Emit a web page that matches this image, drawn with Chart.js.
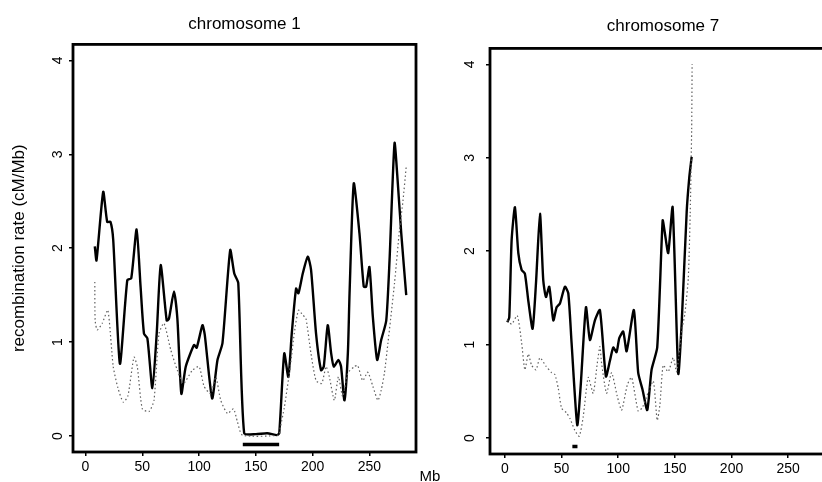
<!DOCTYPE html>
<html>
<head>
<meta charset="utf-8">
<script src="https://cdn.jsdelivr.net/npm/chart.js@4.4.1/dist/chart.umd.min.js"></script>
<style>
  html, body { margin: 0; padding: 0; background: #fff; overflow: hidden; width: 822px; height: 482px; }
  canvas { position: absolute; top: 0; }
  #chr1 { left: 0; }
  #chr7 { left: 420px; }
</style>
</head>
<body>
<canvas id="chr1" width="420" height="482"></canvas>
<canvas id="chr7" width="420" height="482"></canvas>
<script>
// tick labels
const mbTicks = [0, 50, 100, 150, 200, 250]
const rateTicks = [0, 1, 2, 3, 4]

// chromosome 1, solid line
const chr1SolidMb = [8.2, 9.7, 15.6, 19.1, 22, 24.4, 30.3, 36.8, 40.3, 45, 48.5, 51.5, 54.5, 58.9, 62.7, 66.2, 71.5, 73.5, 77.9, 80.9,
  84.4, 88.3, 95.6, 97.9, 103, 105, 111.5, 116.2, 120.6, 127.4, 131, 134.5, 139.7, 150, 160, 168.6, 170.6, 175, 178.6, 181.6,
  185.4, 187.5, 191.3, 195.7, 198.6, 203, 207.4, 209.8, 213.3, 216.3, 218.6, 222.7, 225, 228, 231, 232.5, 236.2, 241.2, 245, 247.1,
  250, 253, 256.8, 260.3, 264.8, 267.7, 272.1, 275, 278, 282.4]
const chr1SolidRate = [2.02, 1.87, 2.60, 2.28, 2.28, 2.09, 0.77, 1.66, 1.68, 2.20, 1.59, 1.09, 1.04, 0.51, 1.09, 1.82, 1.23, 1.25, 1.54, 1.25,
  0.45, 0.74, 0.97, 0.94, 1.18, 1.08, 0.40, 0.81, 0.99, 1.98, 1.73, 1.63, 0.03, 0.02, 0.03, 0.01, 0.03, 0.88, 0.63, 1.09,
  1.57, 1.52, 1.73, 1.91, 1.77, 1.09, 0.70, 0.74, 1.18, 0.88, 0.74, 0.81, 0.74, 0.38, 0.88, 1.52, 2.69, 2.16, 1.59, 1.59,
  1.80, 1.27, 0.81, 1.02, 1.23, 1.87, 3.12, 2.69, 2.16, 1.50]

// chromosome 1, dotted line
const chr1DottedMb = [8.2, 8.5, 10.3, 14.7, 19.7, 24.4, 28.6, 33.3, 37.4, 42.7, 45.6, 50, 55.9, 60.3, 64.7, 69.1, 75, 80.9, 86.2, 94.1,
  100, 104.4, 110.3, 114.7, 119.1, 125, 130.3, 133.8, 138.2, 170, 171.5, 175, 180.3, 183.8, 187.5, 191.2, 194.1, 198.5, 203, 208,
  211.8, 214.7, 219.1, 222.7, 226.5, 231, 236.8, 239.7, 244.1, 248.5, 253, 257.5, 260.4, 263.2, 266.3, 272.1, 276.5, 279.5, 282.4]
const chr1DottedRate = [1.64, 1.23, 1.13, 1.20, 1.34, 0.74, 0.51, 0.36, 0.43, 0.84, 0.74, 0.29, 0.26, 0.38, 1.09, 1.20, 0.92, 0.70, 0.56, 0.70,
  0.74, 0.53, 0.45, 0.63, 0.38, 0.24, 0.29, 0.15, 0.01, 0.01, 0.09, 0.30, 0.74, 1.09, 1.34, 1.29, 1.25, 0.88, 0.59, 0.56,
  0.74, 0.63, 0.38, 0.63, 0.42, 0.67, 0.74, 0.75, 0.59, 0.68, 0.53, 0.38, 0.49, 0.67, 0.99, 1.63, 2.20, 2.50, 2.87]

// chromosome 1, centromere bar
const chr1BandMb = [138.5, 170.5]
const chr1BandRate = [-0.09, -0.09]

// chromosome 7, solid line
const chr7SolidMb = [2.1, 3.8, 5.9, 8.8, 11.8, 14.7, 17.6, 20.6, 24.4, 27.4, 30.9, 33.8, 36.2, 39.1, 42.7, 45.6, 48.5, 52.9, 55.9, 58.8,
  63.8, 66.8, 71.5, 75, 79.4, 83.8, 89.1, 92.7, 95.6, 98.5, 100.9, 104.4, 107.4, 113.8, 117.6, 121.4, 125.6, 129.4, 134.4, 139.2,
  141.2, 144.1, 148, 153, 156, 160.4, 162.7, 164.8]
const chr7SolidRate = [1.24, 1.29, 2.12, 2.47, 1.98, 1.80, 1.76, 1.47, 1.17, 1.66, 2.40, 1.69, 1.51, 1.62, 1.26, 1.40, 1.44, 1.62, 1.55, 1.02,
  0.14, 0.55, 1.40, 1.05, 1.26, 1.37, 0.66, 0.83, 0.97, 0.92, 1.07, 1.14, 0.93, 1.37, 0.70, 0.52, 0.30, 0.73, 0.97, 2.33,
  2.19, 1.98, 2.47, 0.69, 1.23, 2.42, 2.79, 3.01]

// chromosome 7, dotted line
const chr7DottedMb = [2.1, 5.9, 10.9, 14.7, 17.6, 20.6, 23.5, 27.4, 30.9, 36.2, 41.2, 44.1, 47.1, 50, 54.4, 57.4, 61.8, 65.6, 69.1, 73.5,
  77.9, 81.5, 83.8, 85.3, 89.7, 94.1, 99.1, 103, 108, 111.8, 117.6, 121.4, 126.5, 131, 134.4, 136.8, 139.7, 144.1, 148.5, 151.5,
  155.9, 158.8, 161.8, 163.5, 164.8, 165.2]
const chr7DottedRate = [1.26, 1.22, 1.31, 1.02, 0.73, 0.90, 0.78, 0.73, 0.86, 0.77, 0.70, 0.68, 0.53, 0.32, 0.27, 0.21, 0.08, 0.02, 0.23, 0.65,
  0.48, 0.80, 0.98, 0.80, 0.48, 0.70, 0.45, 0.30, 0.57, 0.65, 0.29, 0.33, 0.49, 0.61, 0.19, 0.36, 0.78, 0.71, 0.86, 0.71,
  1.14, 1.33, 1.71, 2.40, 3.30, 4.00]

// chromosome 7, centromere bar
const chr7BandMb = [59.5, 64]
const chr7BandRate = [-0.09, -0.09]

const FONT = "'Liberation Sans', Arial, Helvetica, sans-serif"
Chart.defaults.font.family = FONT
Chart.defaults.color = "#000"

const pts = (xs, ys) => xs.map((x, i) => ({ x: x, y: ys[i] }))

const framePlugin = {
  id: "frame",
  afterDraw(chart) {
    const { ctx, chartArea: a } = chart
    ctx.save()
    ctx.strokeStyle = "#000"
    ctx.lineWidth = 2.8
    ctx.strokeRect(a.left, a.top, a.right - a.left, a.bottom - a.top)
    ctx.restore()
  }
}

const mbLabelPlugin = {
  id: "mbLabel",
  afterDraw(chart) {
    const ctx = chart.ctx
    ctx.save()
    ctx.fillStyle = "#000"
    ctx.font = "15px " + FONT
    ctx.textAlign = "center"
    ctx.textBaseline = "middle"
    ctx.fillText("Mb", chart.chartArea.left - 60, 477)
    ctx.restore()
  }
}

function makeChart(id, cfg) {
  return new Chart(document.getElementById(id), {
    type: "line",
    data: {
      datasets: [
        {
          data: pts(cfg.dottedMb, cfg.dottedRate),
          borderColor: "#5f5f5f",
          borderWidth: 1.2,
          borderDash: [1.5, 2.5],
          pointRadius: 0,
          tension: 0.2
        },
        {
          data: pts(cfg.solidMb, cfg.solidRate),
          borderColor: "#000",
          borderWidth: 2.4,
          pointRadius: 0,
          tension: 0.2
        },
        {
          data: pts(cfg.bandMb, cfg.bandRate),
          borderColor: "#000",
          borderWidth: 3.5,
          pointRadius: 0
        }
      ]
    },
    options: {
      responsive: false,
      animation: false,
      layout: { padding: { left: 0, right: 4, top: 0, bottom: 0 } },
      plugins: {
        legend: { display: false },
        tooltip: { enabled: false },
        title: {
          display: true,
          text: cfg.title,
          fullSize: false,
          color: "#000",
          font: { size: 17, weight: "normal" },
          padding: cfg.titlePad
        }
      },
      scales: {
        x: {
          type: "linear",
          min: cfg.xMin,
          max: cfg.xMax,
          afterBuildTicks: s => { s.ticks = mbTicks.map(v => ({ value: v })) },
          afterFit: s => { s.height = cfg.xAxisHeight },
          border: { display: false },
          grid: { drawOnChartArea: false, drawTicks: true, tickLength: 4, color: "#000", lineWidth: 1.5 },
          ticks: { color: "#000", font: { size: 14 }, padding: 3, maxRotation: 0 }
        },
        y: {
          min: -0.17,
          max: 4.17,
          afterBuildTicks: s => { s.ticks = rateTicks.map(v => ({ value: v })) },
          afterFit: s => { s.width = cfg.yAxisWidth },
          border: { display: false },
          grid: { drawOnChartArea: false, drawTicks: true, tickLength: 4, color: "#000", lineWidth: 1.5 },
          ticks: { color: "#000", font: { size: 14 }, padding: cfg.yTickPad, minRotation: 90, maxRotation: 90, crossAlign: "center" },
          title: {
            display: cfg.yTitle,
            text: "recombination rate (cM/Mb)",
            color: "#000",
            font: { size: 17 },
            padding: { top: 9, bottom: 0 }
          }
        }
      }
    },
    plugins: cfg.plugins
  })
}

makeChart("chr1", {
  title: "chromosome 1",
  solidMb: chr1SolidMb, solidRate: chr1SolidRate,
  dottedMb: chr1DottedMb, dottedRate: chr1DottedRate,
  bandMb: chr1BandMb, bandRate: chr1BandRate,
  xMin: -11, xMax: 291,
  titlePad: { top: 14, bottom: 10 },
  xAxisHeight: 30,
  yAxisWidth: 73,
  yTickPad: 7,
  yTitle: true,
  plugins: [framePlugin]
})

makeChart("chr7", {
  title: "chromosome 7",
  solidMb: chr7SolidMb, solidRate: chr7SolidRate,
  dottedMb: chr7DottedMb, dottedRate: chr7DottedRate,
  bandMb: chr7BandMb, bandRate: chr7BandRate,
  xMin: -13.2, xMax: 292.2,
  titlePad: { top: 16, bottom: 12 },
  xAxisHeight: 28,
  yAxisWidth: 70,
  yTickPad: 12,
  yTitle: false,
  plugins: [framePlugin, mbLabelPlugin]
})
</script>
</body>
</html>
